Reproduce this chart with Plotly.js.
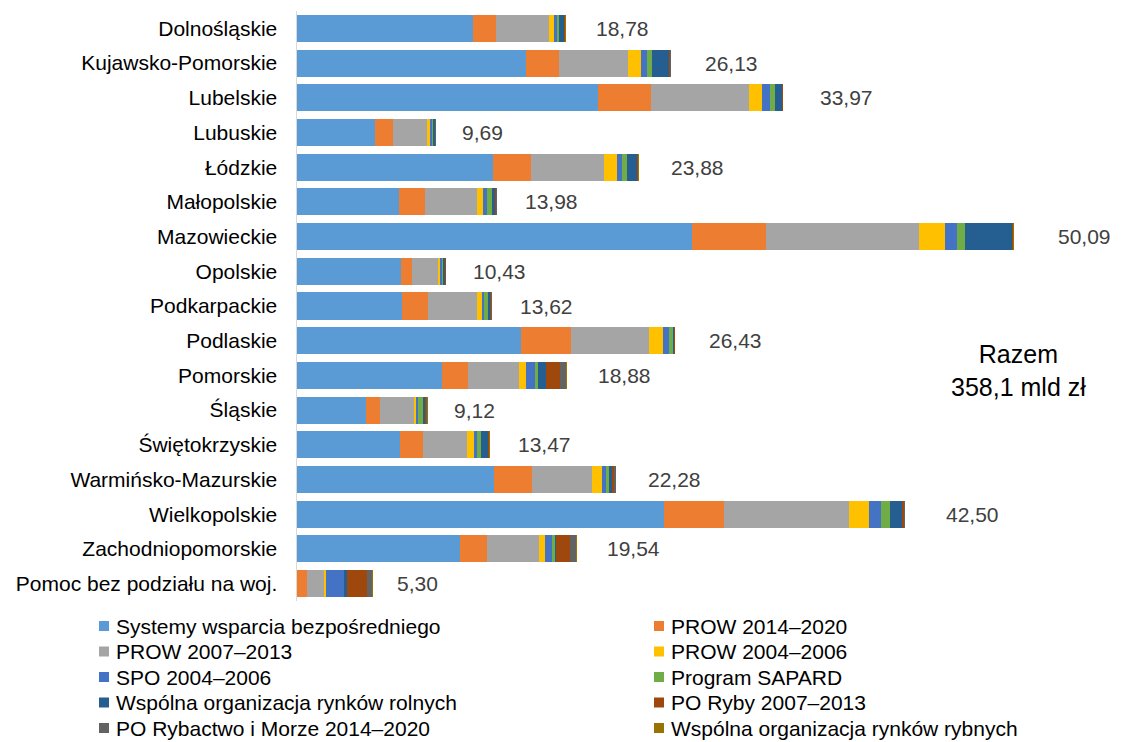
<!DOCTYPE html>
<html>
<head>
<meta charset="utf-8">
<script src="https://cdn.plot.ly/plotly-3.0.1.min.js"></script>
<style>html,body{margin:0;padding:0;background:#fff}#chart{width:1136px;height:742px}</style>
</head>
<body>
<div id="chart"></div>
<script>
const regions = ["Dolnośląskie","Kujawsko-Pomorskie","Lubelskie","Lubuskie","Łódzkie","Małopolskie","Mazowieckie","Opolskie","Podkarpackie","Podlaskie","Pomorskie","Śląskie","Świętokrzyskie","Warmińsko-Mazurskie","Wielkopolskie","Zachodniopomorskie","Pomoc bez podziału na woj."];

const seriesNames = ["Systemy wsparcia bezpośredniego","PROW 2014–2020","PROW 2007–2013","PROW 2004–2006","SPO 2004–2006","Program SAPARD","Wspólna organizacja rynków rolnych","PO Ryby 2007–2013","PO Rybactwo i Morze 2014–2020","Wspólna organizacja rynków rybnych"];
const seriesColors = ["#5B9BD5","#ED7D31","#A5A5A5","#FFC000","#4472C4","#70AD47","#255E91","#9E480E","#636363","#997300"];

const systemyWsparcia = [12.32,16.00,21.00,5.47,13.72,7.13,27.63,7.25,7.35,15.65,10.11,4.84,7.22,13.74,25.67,11.37,0];
const prow1420 = [1.59,2.31,3.77,1.26,2.63,1.79,5.13,0.80,1.79,3.49,1.86,0.95,1.61,2.66,4.19,1.93,0.68];
const prow0713 = [3.70,4.80,6.85,2.38,5.08,3.66,10.68,1.79,3.42,5.43,3.52,2.38,3.05,4.19,8.74,3.61,1.23];
const prow0406 = [0.35,0.91,0.86,0.21,0.91,0.42,1.84,0.16,0.40,0.98,0.51,0.14,0.49,0.70,1.40,0.42,0.09];
const spo0406 = [0.19,0.47,0.56,0.09,0.40,0.28,0.86,0.14,0.12,0.44,0.65,0.14,0.21,0.33,0.79,0.49,1.26];
const sapard = [0.18,0.30,0.35,0.09,0.30,0.35,0.56,0.09,0.30,0.30,0.21,0.33,0.26,0.19,0.63,0.23,0];
const worRolnych = [0.34,1.23,0.47,0.14,0.75,0.23,3.24,0.14,0.12,0.06,0.51,0.16,0.51,0.19,0.88,0.05,0.26];
const poRyby0713 = [0.05,0.07,0.07,0.02,0.04,0.05,0.08,0.03,0.06,0.03,1.02,0.09,0.04,0.14,0.09,0.96,1.40];
const poRybactwo1420 = [0.04,0.02,0.02,0.02,0.03,0.05,0.02,0.02,0.04,0.03,0.42,0.07,0.06,0.12,0.07,0.47,0.33];
const worRybnych = [0.02,0.02,0.02,0.01,0.02,0.02,0.05,0.01,0.02,0.02,0.07,0.02,0.02,0.02,0.04,0.01,0.05];

const totals = [18.78,26.13,33.97,9.69,23.88,13.98,50.09,10.43,13.62,26.43,18.88,9.12,13.47,22.28,42.50,19.54,5.30];
const totalText = "Razem<br>358,1 mld zł";

const seriesValues = [systemyWsparcia,prow1420,prow0713,prow0406,spo0406,sapard,worRolnych,poRyby0713,poRybactwo1420,worRybnych];

const FONT = "Liberation Sans, Arial, sans-serif";

const traces = seriesValues.map((vals, i) => ({
  type: "bar",
  orientation: "h",
  name: seriesNames[i],
  y: regions,
  x: vals,
  marker: {color: seriesColors[i], line: {width: 0}},
  hoverinfo: "skip",
  showlegend: false
}));

// plot geometry (pixels)
const W = 1136, H = 742;
const M = {l: 297, r: 10, t: 11, b: 141};
const PW = W - M.l - M.r, PH = H - M.t - M.b;
const px2x = p => (p - M.l) / PW;
const px2y = p => 1 - (p - M.t) / PH;

const annotations = totals.map((t, i) => ({
  x: t, y: regions[i], xref: "x", yref: "y",
  text: t.toFixed(2).replace(".", ","),
  showarrow: false, xanchor: "left", yanchor: "middle",
  xshift: 20 + 0.45 * t,
  font: {family: FONT, size: 21, color: "#404040"}
}));

annotations.push({
  x: px2x(1018), y: px2y(370), xref: "paper", yref: "paper",
  text: totalText, showarrow: false, xanchor: "center", yanchor: "middle",
  align: "center",
  font: {family: FONT, size: 25, color: "#000000"}
});

// legend drawn as a two-column grid
const shapes = [];
const colX = [99, 654];
const rowY = [626, 651.5, 677, 702.5, 728];
seriesNames.forEach((n, i) => {
  const c = i % 2, r = Math.floor(i / 2);
  const sx = colX[c], sy = rowY[r];
  shapes.push({type: "rect", xref: "paper", yref: "paper",
    x0: px2x(sx), x1: px2x(sx + 10), y0: px2y(sy - 5), y1: px2y(sy + 5),
    fillcolor: seriesColors[i], line: {width: 0}});
  annotations.push({x: px2x(sx + 15), y: px2y(sy), xref: "paper", yref: "paper",
    text: n, showarrow: false, xanchor: "left", yanchor: "middle",
    font: {family: FONT, size: 21, color: "#000000"}});
});

const layout = {
  width: W, height: H,
  margin: M,
  paper_bgcolor: "#ffffff", plot_bgcolor: "#ffffff",
  barmode: "stack", bargap: 0.22,
  showlegend: false,
  xaxis: {range: [0, PW / 14.31], visible: false, fixedrange: true},
  yaxis: {type: "category", autorange: "reversed", showline: true, linecolor: "#D9D9D9", linewidth: 1.5,
    showgrid: false, zeroline: false, ticks: "", ticklabelstandoff: 14,
    tickfont: {family: FONT, size: 21, color: "#000000"}},
  annotations: annotations,
  shapes: shapes,
  font: {family: FONT}
};

Plotly.newPlot("chart", traces, layout, {displayModeBar: false, staticPlot: true});
</script>
</body>
</html>
